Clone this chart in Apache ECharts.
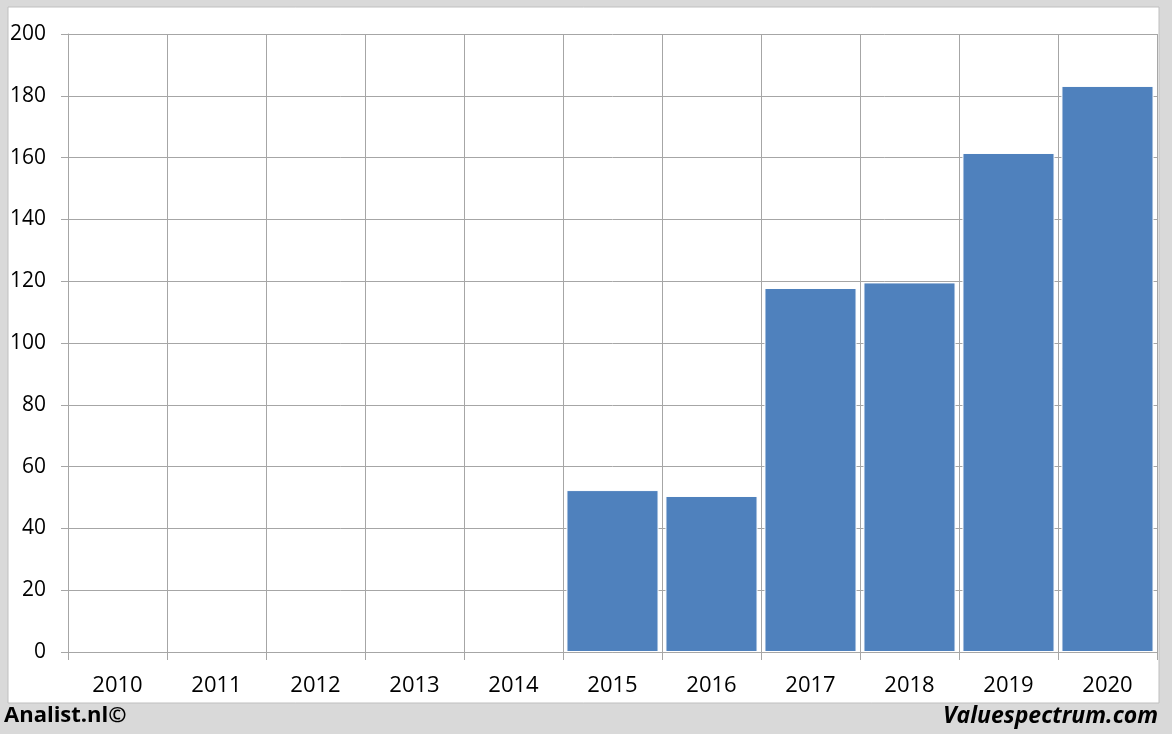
<!DOCTYPE html>
<html><head><meta charset="utf-8">
<script src="https://cdn.jsdelivr.net/npm/echarts@6/dist/echarts.min.js"></script>
<style>html,body{margin:0;padding:0;background:#d9d9d9;}#c{width:1172px;height:734px;}</style>
</head><body><div id="c"></div>
<script>
const categories = ['2010','2011','2012','2013','2014','2015','2016','2017','2018','2019','2020'];
const values = [null,null,null,null,null,52.4,50.5,117.8,119.6,161.5,183.2];
const yTicks = {min:0, max:200, interval:20};

const chart = echarts.init(document.getElementById('c'), null, {renderer:'canvas'});
const gridColor = '#a6a6a6';
const font = '"Open Sans", "Liberation Sans", sans-serif';
chart.setOption({
  backgroundColor:'#d9d9d9',
  animation:false,
  graphic:[
    {type:'rect', z:-10, shape:{x:8,y:7,width:1151,height:696}, style:{fill:'#ffffff', stroke:'#bfbfbf', lineWidth:1}},
    {type:'text', left:4, top:705, style:{text:'Analist.nl©', font:'bold 22px '+font, fill:'#000'}},
    {type:'text', right:14, top:705, style:{text:'Valuespectrum.com', font:'italic bold 23px '+font, fill:'#000'}}
  ],
  grid:{left:68, right:15, top:34, bottom:82, containLabel:false},
  xAxis:{
    type:'category', data:categories, boundaryGap:true,
    axisLine:{show:true, lineStyle:{color:gridColor}},
    axisTick:{show:true, length:8, alignWithLabel:false, lineStyle:{color:gridColor}},
    splitLine:{show:true, lineStyle:{color:gridColor, width:1}},
    axisLabel:{color:'#000', fontSize:22, fontFamily:font, margin:23}
  },
  yAxis:{
    type:'value', min:yTicks.min, max:yTicks.max, interval:yTicks.interval,
    axisLine:{show:true, lineStyle:{color:gridColor}},
    axisTick:{show:true, length:7, lineStyle:{color:gridColor}},
    splitLine:{show:true, lineStyle:{color:gridColor, width:1}},
    axisLabel:{color:'#000', fontSize:21, fontFamily:font, margin:22}
  },
  series:[{
    type:'bar', data:values, barCategoryGap:'7%',
    itemStyle:{color:'#4f81bd', borderColor:'#ffffff', borderWidth:1}
  }]
});
</script></body></html>
